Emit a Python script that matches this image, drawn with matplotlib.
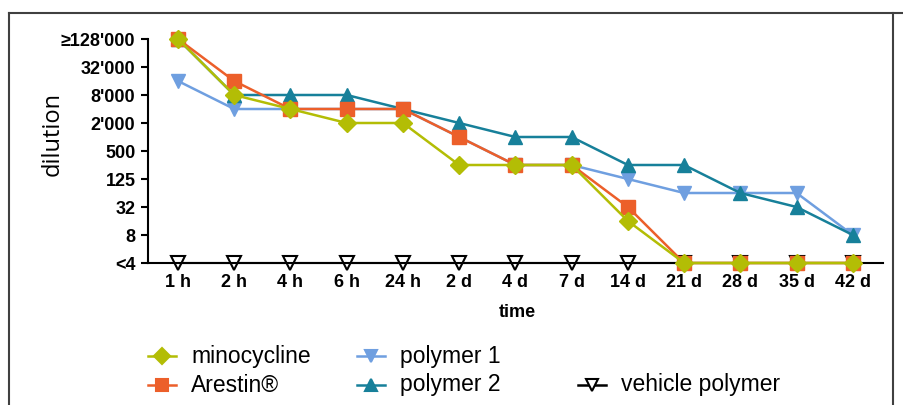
import numpy as np
import matplotlib.pyplot as plt
from matplotlib.lines import Line2D

plt.rcParams['font.family'] = ['Liberation Sans', 'DejaVu Sans']

# time points and dilution levels (0 = <4, 1 = 8, 2 = 32, ... 8 = >=128'000, factor 4 per level)
times = ['1 h', '2 h', '4 h', '6 h', '24 h', '2 d', '4 d', '7 d', '14 d', '21 d', '28 d', '35 d', '42 d']
levels = ['<4', '8', '32', '125', '500', "2'000", "8'000", "32'000", "≥128'000"]

minocycline = [8, 6, 5.5, 5, 5, 3.5, 3.5, 3.5, 1.5, 0, 0, 0, 0]
arestin = [8, 6.5, 5.5, 5.5, 5.5, 4.5, 3.5, 3.5, 2, 0, 0, 0, 0]
polymer1 = [6.5, 5.5, 5.5, 5.5, 5.5, 4.5, 3.5, 3.5, 3, 2.5, 2.5, 2.5, 1]
polymer2 = [8, 6, 6, 6, 5.5, 5, 4.5, 4.5, 3.5, 3.5, 2.5, 2, 1]
vehicle = [0] * 13

c_mino = '#b3bd05'
c_ares = '#ec5f2a'
c_p1 = '#6f9fe0'
c_p2 = '#17809a'

x = np.arange(len(times))

fig = plt.figure(figsize=(9.04, 4.05), dpi=100)
ax = fig.add_axes([148/904, 1 - 263/405, (883-148)/904, (263-39)/405])

ax.plot(x, vehicle, color='black', lw=1.5, marker='v', ms=10, mfc='white', mec='black', mew=1.5, clip_on=False, zorder=2)
ax.plot(x, polymer1, color=c_p1, lw=1.8, marker='v', ms=10, clip_on=False, zorder=3)
ax.plot(x, polymer2, color=c_p2, lw=1.8, marker='^', ms=10, clip_on=False, zorder=4)
ax.plot(x, arestin, color=c_ares, lw=1.8, marker='s', ms=10, clip_on=False, zorder=5)
ax.plot(x, minocycline, color=c_mino, lw=1.8, marker='D', ms=9, clip_on=False, zorder=6)

ax.set_xlim(-30/56.25, 705/56.25 + 0.003)
ax.set_ylim(0, 8)
ax.set_xticks(x)
ax.set_xticklabels(times, fontweight='bold', fontsize=13)
ax.set_yticks(range(len(levels)))
ax.set_yticklabels(levels, fontweight='bold', fontsize=13)
ax.tick_params(axis='x', length=0, pad=8)
ax.tick_params(axis='y', length=5, width=1.5, pad=4)
ax.spines['top'].set_visible(False)
ax.spines['right'].set_visible(False)
ax.spines['left'].set_linewidth(1.5)
ax.spines['bottom'].set_linewidth(1.5)
ax.set_xlabel('time', fontweight='bold', fontsize=13)
ax.xaxis.set_label_coords((517-148)/(883-148), -(304-263)/(263-39))
ax.set_ylabel('dilution', fontsize=17, family=['Open Sans', 'DejaVu Sans'])
ax.yaxis.set_label_coords(-(148-65)/(883-148), (263-134)/(263-39))

# legend, laid out in three columns like the original
legend_items = [
    ('minocycline', c_mino, 'D', 8, c_mino, 162, 356),
    ('Arestin®', c_ares, 's', 9, c_ares, 162, 385),
    ('polymer 1', c_p1, 'v', 9, c_p1, 371, 356),
    ('polymer 2', c_p2, '^', 9, c_p2, 371, 385),
    ('vehicle polymer', 'black', 'v', 9, 'white', 592, 385),
]
for label, col, mk, size, face, px, py in legend_items:
    yy = 1 - py/405
    fig.add_artist(Line2D([(px-14)/904, px/904, (px+14)/904], [yy, yy, yy], color=col, lw=1.8,
                          marker=mk, ms=size, mfc=face, mec=col, mew=1.5, markevery=[1]))
    fig.text((px+29)/904, yy, label, fontsize=16.5, va='center', ha='left')

# frame around the figure
fig.add_artist(Line2D([9/904, 1], [1 - 13/405] * 2, color='#404040', lw=1.5))
fig.add_artist(Line2D([9/904] * 2, [0, 1 - 13/405], color='#404040', lw=1.5))
fig.add_artist(Line2D([893/904] * 2, [0, 1 - 13/405], color='#404040', lw=1.5))

fig.savefig('out.png', dpi=100)
